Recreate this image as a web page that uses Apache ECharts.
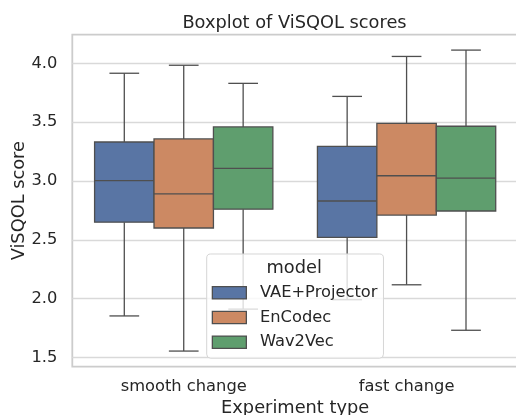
<!DOCTYPE html>
<html>
<head>
<meta charset="utf-8">
<script src="https://cdn.jsdelivr.net/npm/echarts@6/dist/echarts.min.js"></script>
<style>
  html, body { margin: 0; padding: 0; background: #ffffff; }
  #chart { width: 516px; height: 415px; }
</style>
</head>
<body>
<div id="chart"></div>
<script>
// ---- Data ----
const categories = ['smooth change', 'fast change'];
const models = ['VAE+Projector', 'EnCodec', 'Wav2Vec'];
// each entry: [lower whisker, Q1, median, Q3, upper whisker]
const vaeProjector = [
  [1.852, 2.650, 3.003, 3.332, 3.917],
  [1.990, 2.520, 2.830, 3.295, 3.720]
];
const enCodec = [
  [1.553, 2.600, 2.890, 3.358, 3.985],
  [2.117, 2.710, 3.045, 3.490, 4.060]
];
const wav2Vec = [
  [1.910, 2.760, 3.108, 3.460, 3.831],
  [1.730, 2.745, 3.025, 3.466, 4.114]
];
const yTicks = [1.5, 2.0, 2.5, 3.0, 3.5, 4.0];

const modelData = [vaeProjector, enCodec, wav2Vec];
const fillColors = ['#5975a4', '#cc8963', '#5f9e6e'];
const edgeColor = '#4f4f4f';
const textColor = '#262626';
const FONT = 'DejaVu Sans';
const GROUP_WIDTH = 0.8;

function makeRenderItem(k) {
  return function (params, api) {
    const cat = api.value(0);
    const band = api.size([1, 0])[0];
    const boxW = band * GROUP_WIDTH / models.length;
    const base = api.coord([cat, api.value(3)]);
    const cx = base[0] + (k - (models.length - 1) / 2) * boxW;
    const yLo = api.coord([cat, api.value(1)])[1];
    const yQ1 = api.coord([cat, api.value(2)])[1];
    const yMed = api.coord([cat, api.value(3)])[1];
    const yQ3 = api.coord([cat, api.value(4)])[1];
    const yHi = api.coord([cat, api.value(5)])[1];
    const capHalf = boxW / 4;
    const lineStyle = { stroke: edgeColor, lineWidth: 1.3, fill: null };
    return {
      type: 'group',
      children: [
        { type: 'line', shape: { x1: cx, y1: yQ3, x2: cx, y2: yHi }, style: lineStyle },
        { type: 'line', shape: { x1: cx, y1: yQ1, x2: cx, y2: yLo }, style: lineStyle },
        { type: 'line', shape: { x1: cx - capHalf, y1: yHi, x2: cx + capHalf, y2: yHi }, style: lineStyle },
        { type: 'line', shape: { x1: cx - capHalf, y1: yLo, x2: cx + capHalf, y2: yLo }, style: lineStyle },
        { type: 'rect', shape: { x: cx - boxW / 2, y: yQ3, width: boxW, height: yQ1 - yQ3 },
          style: { fill: fillColors[k], stroke: edgeColor, lineWidth: 1.3 } },
        { type: 'line', shape: { x1: cx - boxW / 2, y1: yMed, x2: cx + boxW / 2, y2: yMed }, style: lineStyle }
      ]
    };
  };
}

const series = models.map(function (name, k) {
  return {
    name: name,
    type: 'custom',
    renderItem: makeRenderItem(k),
    itemStyle: { color: fillColors[k] },
    encode: { x: 0, y: [1, 2, 3, 4, 5] },
    data: categories.map(function (c, i) { return [i].concat(modelData[k][i]); }),
    z: 2
  };
});

const chart = echarts.init(document.getElementById('chart'), null, { renderer: 'canvas' });
chart.setOption({
  animation: false,
  backgroundColor: '#ffffff',
  textStyle: { fontFamily: FONT, color: textColor },
  title: {
    text: 'Boxplot of ViSQOL scores',
    left: 294.5,
    top: 14.5,
    padding: 0,
    textAlign: 'center',
    textStyle: { fontFamily: FONT, fontSize: 17.8, fontWeight: 'normal', color: textColor, lineHeight: 18 }
  },
  grid: {
    left: 72.3, top: 34.7, width: 445.7, height: 332,
    containLabel: false,
    outerBoundsMode: 'none',
    show: true, borderColor: '#cccccc', borderWidth: 1.8, backgroundColor: 'transparent'
  },
  xAxis: {
    type: 'category',
    data: categories,
    boundaryGap: true,
    axisLine: { show: false },
    axisTick: { show: false },
    splitLine: { show: false },
    axisLabel: { fontFamily: FONT, fontSize: 16.3, color: textColor, margin: 12.5, lineHeight: 16 },
    name: 'Experiment type',
    nameLocation: 'middle',
    nameGap: 32.5,
    nameMoveOverlap: false,
    nameTextStyle: { fontFamily: FONT, fontSize: 17.8, color: textColor, lineHeight: 18 }
  },
  yAxis: {
    type: 'value',
    min: 1.42,
    max: 4.245,
    axisLine: { show: false },
    axisTick: { show: false, customValues: yTicks },
    axisLabel: {
      customValues: yTicks,
      fontFamily: FONT, fontSize: 16.3, color: textColor, margin: 15,
      formatter: function (v) { return Number(v).toFixed(1); }
    },
    splitLine: { show: true, lineStyle: { color: '#d9d9d9', width: 1.3 } },
    name: 'ViSQOL score',
    nameLocation: 'middle',
    nameGap: 44,
    nameMoveOverlap: false,
    nameTextStyle: { fontFamily: FONT, fontSize: 17.8, color: textColor, lineHeight: 18 }
  },
  legend: {
    orient: 'vertical',
    left: 206.7,
    top: 254,
    padding: [30.8, 6, 8, 5],
    itemWidth: 34,
    itemHeight: 12.3,
    itemGap: 8.7,
    backgroundColor: 'rgba(255,255,255,0.8)',
    borderColor: '#d6d6d6',
    borderWidth: 1,
    borderRadius: 4,
    itemStyle: { borderColor: edgeColor, borderWidth: 1.3 },
    formatter: function (name) { return '{t|' + name + '}'; },
    textStyle: {
      fontFamily: FONT, fontSize: 16.3, color: textColor, lineHeight: 16,
      rich: { t: { fontFamily: FONT, fontSize: 16.3, color: textColor, lineHeight: 16, padding: [0, 0, 0, 8.6] } }
    },
    data: models.map(function (m) { return { name: m, icon: 'rect' }; }),
    selectedMode: false,
    z: 10
  },
  graphic: [{
    type: 'text',
    x: 294.2,
    y: 268,
    z: 100,
    style: {
      text: 'model',
      fontFamily: FONT,
      fontSize: 17.8,
      fill: textColor,
      textAlign: 'center',
      textVerticalAlign: 'middle'
    }
  }],
  series: series
});
</script>
</body>
</html>
